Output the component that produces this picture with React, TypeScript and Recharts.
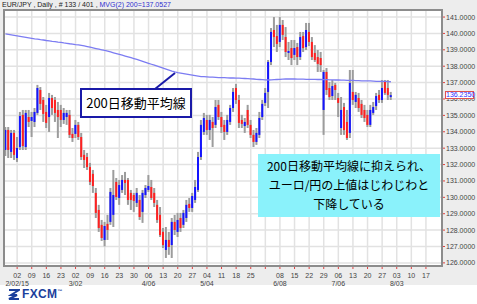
import React from "react";
import { Bar, CartesianGrid, ComposedChart, Line, XAxis, YAxis } from "recharts";

// EUR/JPY daily candles, 2015-01-27 .. 2015-07-30
const opens = [
  132.89, 134.11, 132.77, 133.93, 132.40, 133.07, 135.03, 133.07, 134.90, 134.66,
  134.60, 135.15, 136.55, 135.94, 135.21, 134.90, 136.06, 135.94, 135.33, 135.33,
  134.72, 134.90, 135.03, 133.87, 133.87, 134.42, 133.68, 132.59, 132.46, 131.85,
  131.43, 130.27, 129.23, 128.32, 127.40, 128.38, 128.50, 128.93, 130.94, 129.96,
  130.45, 131.06, 131.06, 130.27, 130.14, 129.66, 129.84, 129.11, 130.14, 130.45,
  130.63, 130.27, 129.54, 128.93, 127.89, 126.79, 127.40, 127.09, 128.50, 127.89,
  128.74, 128.32, 128.74, 129.60, 129.35, 129.84, 130.45, 132.46, 133.99, 134.72,
  134.11, 134.60, 134.42, 135.64, 134.90, 134.42, 133.99, 134.60, 135.45, 136.67,
  135.94, 134.72, 134.35, 135.33, 134.42, 133.81, 133.38, 133.81, 134.90, 135.76,
  136.43, 138.26, 140.21, 139.84, 139.48, 140.52, 139.78, 138.81, 139.11, 138.69,
  139.17, 138.56, 139.84, 139.17, 140.09, 139.48, 138.81, 138.56, 138.50, 135.33,
  137.65, 136.67, 136.18, 136.86, 136.06, 134.23, 135.51, 134.60, 133.93, 136.43,
  135.82, 136.06, 135.70, 135.33, 135.03, 134.42, 135.15, 135.57, 136.25, 135.94,
  137.04, 136.67, 136.12,
];
const highs = [
  134.29, 134.29, 134.11, 134.11, 133.68, 135.21, 135.33, 135.33, 135.33, 135.21,
  135.45, 136.86, 136.73, 136.12, 135.64, 136.37, 136.25, 136.12, 135.82, 135.64,
  135.45, 135.33, 135.33, 134.23, 134.72, 134.60, 133.93, 132.89, 132.71, 132.10,
  131.67, 130.57, 129.54, 128.62, 128.50, 128.93, 130.57, 131.67, 131.18, 131.06,
  131.36, 131.55, 131.18, 130.45, 130.27, 130.57, 130.14, 130.45, 130.75, 131.36,
  131.06, 130.57, 129.84, 129.41, 128.13, 128.19, 127.89, 128.74, 128.93, 129.05,
  129.05, 129.23, 129.84, 129.96, 130.27, 131.06, 132.77, 134.72, 135.15, 135.03,
  135.03, 134.90, 135.94, 135.94, 135.21, 134.72, 135.03, 135.64, 136.67, 136.92,
  136.25, 135.03, 134.84, 135.64, 134.72, 134.11, 134.23, 135.21, 135.94, 136.67,
  138.38, 140.33, 141.00, 140.52, 141.00, 140.82, 140.39, 139.48, 139.60, 139.60,
  139.42, 140.09, 140.09, 140.64, 140.64, 139.78, 139.29, 138.99, 138.87, 137.77,
  137.89, 137.04, 137.16, 136.98, 136.37, 136.12, 135.76, 135.33, 137.77, 137.77,
  136.43, 136.37, 135.94, 135.64, 135.33, 135.64, 135.82, 136.37, 136.55, 137.16,
  137.16, 137.16, 136.43,
];
const lows = [
  132.52, 132.40, 132.40, 132.28, 132.16, 132.89, 132.89, 132.89, 134.29, 133.68,
  134.29, 135.03, 135.33, 134.60, 134.23, 133.99, 135.03, 134.60, 133.62, 134.29,
  134.48, 134.42, 133.62, 133.38, 133.62, 133.50, 132.28, 131.79, 131.67, 130.75,
  130.27, 128.74, 127.89, 127.34, 127.01, 127.40, 128.32, 128.19, 129.84, 129.54,
  130.27, 130.14, 129.54, 129.23, 129.11, 129.41, 128.62, 128.44, 129.96, 130.33,
  129.84, 129.41, 128.44, 127.58, 126.91, 126.30, 126.49, 126.30, 127.70, 127.58,
  127.89, 128.13, 128.50, 129.11, 129.11, 129.66, 130.33, 132.28, 133.81, 133.81,
  133.50, 133.07, 134.23, 134.72, 133.93, 133.50, 133.81, 134.42, 135.21, 135.70,
  134.23, 134.23, 133.93, 134.23, 133.62, 133.07, 133.20, 133.62, 134.72, 135.57,
  135.45, 138.07, 139.17, 138.87, 139.17, 139.60, 138.56, 138.38, 138.07, 138.38,
  138.07, 138.38, 138.87, 138.99, 139.23, 138.38, 138.26, 137.65, 137.65, 133.81,
  136.25, 135.94, 135.94, 135.94, 134.90, 133.81, 133.81, 133.50, 133.62, 135.64,
  135.45, 135.21, 134.84, 134.60, 134.29, 134.29, 135.03, 135.33, 135.76, 135.76,
  136.25, 135.94, 135.94,
];
const closes = [
  134.11, 132.89, 133.93, 132.59, 133.01, 134.96, 133.13, 135.15, 134.60, 134.90,
  135.21, 136.67, 135.70, 135.09, 134.54, 136.06, 135.45, 135.15, 134.90, 134.72,
  135.15, 135.15, 133.81, 133.62, 134.42, 133.68, 132.46, 132.28, 131.85, 130.94,
  130.69, 129.05, 128.13, 127.52, 128.25, 128.01, 130.33, 130.14, 130.02, 130.75,
  131.06, 130.88, 129.84, 129.84, 129.78, 130.27, 128.80, 130.27, 130.57, 130.69,
  129.96, 129.66, 128.62, 127.70, 127.09, 127.40, 126.97, 128.50, 128.01, 128.62,
  128.13, 129.05, 129.54, 129.35, 130.08, 130.63, 132.46, 134.42, 134.84, 134.11,
  134.72, 134.23, 135.51, 134.90, 134.29, 133.99, 134.72, 135.45, 136.43, 135.94,
  134.54, 134.48, 134.60, 134.42, 133.81, 133.38, 133.93, 134.84, 135.70, 136.37,
  138.26, 140.09, 139.78, 139.36, 140.52, 139.91, 138.87, 138.93, 138.50, 139.11,
  138.56, 139.78, 139.11, 140.21, 139.48, 138.56, 138.38, 138.14, 138.07, 137.65,
  136.55, 136.12, 136.79, 136.55, 135.76, 135.33, 134.11, 133.62, 136.98, 135.94,
  136.25, 135.45, 135.03, 134.84, 134.42, 135.33, 135.51, 136.18, 135.94, 136.67,
  136.37, 136.25, 136.235,
];
// MVG(2) 200
const ma200 = [
  139.97, 139.94, 139.91, 139.88, 139.85, 139.82, 139.79, 139.76, 139.73, 139.70,
  139.67, 139.65, 139.62, 139.60, 139.57, 139.55, 139.52, 139.50, 139.47, 139.45,
  139.42, 139.40, 139.37, 139.35, 139.32, 139.30, 139.27, 139.24, 139.20, 139.16,
  139.12, 139.08, 139.04, 139.00, 138.96, 138.92, 138.87, 138.82, 138.77, 138.72,
  138.67, 138.62, 138.57, 138.52, 138.47, 138.42, 138.36, 138.30, 138.24, 138.18,
  138.12, 138.06, 138.00, 137.94, 137.88, 137.82, 137.76, 137.70, 137.65, 137.61,
  137.58, 137.55, 137.52, 137.49, 137.46, 137.43, 137.40, 137.37, 137.36, 137.35,
  137.34, 137.33, 137.32, 137.31, 137.30, 137.30, 137.29, 137.28, 137.28, 137.27,
  137.27, 137.26, 137.25, 137.24, 137.23, 137.22, 137.20, 137.19, 137.18, 137.17,
  137.16, 137.17, 137.18, 137.19, 137.20, 137.21, 137.22, 137.22, 137.22, 137.22,
  137.21, 137.21, 137.21, 137.20, 137.20, 137.20, 137.20, 137.19, 137.19, 137.18,
  137.18, 137.17, 137.17, 137.16, 137.16, 137.15, 137.15, 137.14, 137.13, 137.13,
  137.12, 137.12, 137.11, 137.11, 137.10, 137.10, 137.09, 137.08, 137.08, 137.07,
  137.07, 137.06, 137.0527,
];

// weekly (Monday) ticks from 2/02 to 8/17
const weekTicks = [4, 9, 14, 19, 24, 29, 34, 39, 44, 49, 54, 59, 64, 69, 74, 79, 84, 89, 94, 99, 104, 109, 114, 119, 124, 129, 134, 139, 144];
const dayLabels = ["02", "09", "16", "23", "02", "09", "16", "23", "30", "06", "13", "20", "27", "04", "11", "18", "25", "", "08", "15", "22", "29", "06", "13", "20", "27", "03", "10", "17"];
const monthLabels = ["2/02/15", "", "", "", "3/02", "", "", "", "", "4/06", "", "", "", "5/04", "", "", "", "", "6/08", "", "", "", "7/06", "", "", "", "8/03", "", ""];
const priceTicks = [126, 127, 128, 129, 130, 131, 132, 133, 134, 135, 136, 137, 138, 139, 140, 141];

const SLOTS = 150;
const data = Array.from({ length: SLOTS }, (_, i) =>
  i < closes.length
    ? { i, o: opens[i], h: highs[i], l: lows[i], c: closes[i], range: [lows[i], highs[i]], ma: ma200[i] }
    : { i, range: null, ma: null }
);

const FONT = "'Liberation Sans', Arial, sans-serif";

function Candle(props: any) {
  const { x, y, width, height, payload } = props;
  if (!payload || payload.h == null) return null;
  const cx = x + width / 2;
  const k = height / (payload.h - payload.l);
  const yo = y + (payload.h - payload.o) * k;
  const yc = y + (payload.h - payload.c) * k;
  const up = payload.c >= payload.o;
  return (
    <g>
      <rect x={cx - 1} y={y} width={2} height={height} fill="#9c9c9c" />
      <rect
        x={cx - 1}
        y={Math.min(yo, yc)}
        width={2}
        height={Math.max(1, Math.abs(yc - yo))}
        fill={up ? "#1414ff" : "#ff2020"}
      />
    </g>
  );
}

function XTick(props: any) {
  const { x, y, payload } = props;
  const k = weekTicks.indexOf(payload.value);
  return (
    <g>
      <text x={x} y={y + 7} textAnchor="middle" fontSize={7} fill="#444" fontFamily={FONT}>
        {dayLabels[k]}
      </text>
      {monthLabels[k] && (
        <text x={x} y={y + 15} textAnchor="middle" fontSize={7} fill="#444" fontFamily={FONT}>
          {monthLabels[k]}
        </text>
      )}
    </g>
  );
}

export default function App() {
  return (
    <div style={{ position: "fixed", left: 0, top: 0, width: 477, height: 304, background: "#fff", fontFamily: FONT }}>
      <div style={{ position: "absolute", left: 0, top: 0, width: 477, height: 285, background: "#ededed" }} />
      <div style={{ position: "absolute", left: 2, top: 1, fontSize: 7, color: "#222", whiteSpace: "nowrap" }}>
        EUR/JPY , Daily , # 133 / 401 , <span style={{ color: "#3030d0" }}>MVG(2) 200=137.0527</span>
      </div>
      <div style={{ position: "absolute", left: 0, top: 0 }}>
        <ComposedChart width={477} height={290} data={data} margin={{ top: 10, right: 0, bottom: 0, left: 4 }}>
          <CartesianGrid stroke="#e2e2e2" strokeWidth={1.5} fill="#ffffff" />
          <XAxis
            dataKey="i"
            type="category"
            ticks={weekTicks}
            interval={0}
            height={24}
            tickSize={3}
            tickLine={{ stroke: "#e04040" }}
            axisLine={{ stroke: "#8c8c8c", strokeWidth: 2 }}
            tick={<XTick />}
          />
          <YAxis
            orientation="right"
            type="number"
            domain={[125.81, 141.43]}
            allowDataOverflow
            ticks={priceTicks}
            interval={0}
            width={35}
            tickSize={3}
            tickMargin={1}
            tickLine={{ stroke: "#e04040" }}
            axisLine={{ stroke: "#8c8c8c", strokeWidth: 2 }}
            tick={{ fontSize: 7, fill: "#444", fontFamily: FONT }}
            tickFormatter={(v: number) => v.toFixed(4)}
          />
          <Bar dataKey="range" shape={<Candle />} isAnimationActive={false} />
          <Line
            type="linear"
            dataKey="ma"
            stroke="#7c7cf2"
            strokeWidth={1.3}
            dot={false}
            activeDot={false}
            isAnimationActive={false}
          />
        </ComposedChart>
      </div>
      {/* plot frame */}
      <div style={{ position: "absolute", left: 3, top: 9, width: 440, height: 258, border: "2px solid #8c8c8c", boxSizing: "border-box", pointerEvents: "none" }} />
      {/* last price marker */}
      <div style={{ position: "absolute", left: 445, top: 91, width: 29, height: 8, border: "1px solid #e05050", background: "#fff", boxSizing: "border-box", fontSize: 7, lineHeight: "6px", color: "#3030ff", textAlign: "center" }}>
        136.2350
      </div>
      {/* annotations */}
      <svg style={{ position: "absolute", left: 0, top: 0 }} width={477} height={304}>
        <line x1={155} y1={89} x2={175} y2={73} stroke="#1a1aa8" strokeWidth={2} />
      </svg>
      <div style={{ position: "absolute", left: 80, top: 88, width: 112, height: 30, border: "2px solid #1a1aa8", background: "#fff", boxSizing: "border-box", fontFamily: "'Noto Sans CJK JP', sans-serif", fontSize: 13, lineHeight: "26px", textAlign: "center", color: "#000" }}>
        200日移動平均線
      </div>
      <div style={{ position: "absolute", left: 258, top: 154, width: 182, height: 63, background: "#8af2fb", fontFamily: "'Noto Sans CJK JP', sans-serif", fontSize: 12, lineHeight: "19px", paddingTop: 2, boxSizing: "border-box", textAlign: "center", color: "#000" }}>
        200日移動平均線に抑えられ、
        <br />
        ユーロ/円の上値はじわじわと
        <br />
        下降している
      </div>
      {/* FXCM logo */}
      <div style={{ position: "absolute", left: 8, top: 287, display: "flex", alignItems: "center", color: "#1c3f9c", fontWeight: 700, fontSize: 12 }}>
        <svg width={12} height={11}>
          <path d="M1 1 H11 L3 6 H9 L1 10 H11" fill="none" stroke="#1c3f9c" strokeWidth={2} />
        </svg>
        <span style={{ marginLeft: 2, letterSpacing: 0.3 }}>FXCM</span>
        <span style={{ fontSize: 5, alignSelf: "flex-start", marginTop: 1 }}>™</span>
      </div>
    </div>
  );
}
